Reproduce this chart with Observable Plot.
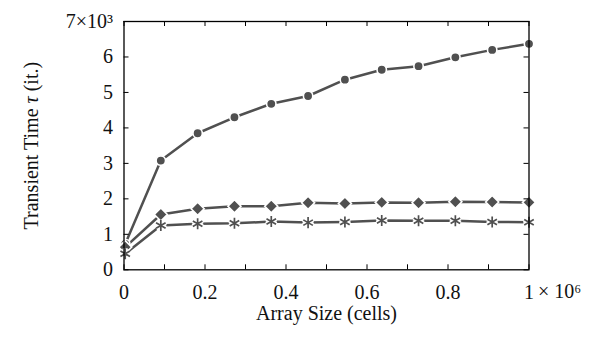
<!DOCTYPE html>
<html>
<head>
<meta charset="utf-8">
<script src="https://cdn.jsdelivr.net/npm/d3@7"></script>
<script src="https://cdn.jsdelivr.net/npm/@observablehq/plot@0.6"></script>
<style>
  html, body { margin: 0; padding: 0; background: #fff; }
  svg { display: block; }
</style>
</head>
<body>
<div id="chart"></div>
<script>
// ---- data ----
const sizes   = [3000, 90909, 181818, 272727, 363636, 454545, 545455, 636364, 727273, 818182, 909091, 1000000];
const circleT = [730, 3080, 3850, 4300, 4680, 4900, 5360, 5640, 5740, 5990, 6200, 6370];
const diamondT = [640, 1560, 1720, 1790, 1790, 1890, 1870, 1900, 1890, 1920, 1910, 1900];
const starT   = [450, 1250, 1300, 1310, 1360, 1330, 1350, 1390, 1380, 1380, 1350, 1340];
const xTicks = [0, 100000, 200000, 300000, 400000, 500000, 600000, 700000, 800000, 900000, 1000000];
const xTickLabels = [0, 200000, 400000, 600000, 800000, 1000000];
const yTicks = [0, 1000, 2000, 3000, 4000, 5000, 6000, 7000];
const xLabel = "Array Size (cells)";
const yLabel = "Transient Time τ (it.)";

const W = 597, H = 337;
const mL = 123.5, mR = 68.5, mT = 21, mB = 67.7;
const PW = W - mL - mR, PH = H - mT - mB;
const col = "#505050";
const ink = "#111";
const font = "'Liberation Serif', 'DejaVu Serif', serif";

const mk = arr => sizes.map((s, i) => ({x: s, y: arr[i]}));
const circ = mk(circleT), diam = mk(diamondT), star = mk(starT);

const diamondSym = {
  draw(ctx, size) {
    const r = Math.sqrt(size / 2);
    ctx.moveTo(0, -r); ctx.lineTo(r, 0); ctx.lineTo(0, r); ctx.lineTo(-r, 0); ctx.closePath();
  }
};

const chart = Plot.plot({
  width: W, height: H,
  marginLeft: mL, marginRight: mR, marginTop: mT, marginBottom: mB,
  style: {fontFamily: font, fontSize: "20px", color: ink, background: "#fff"},
  x: {domain: [0, 1000000]},
  y: {domain: [0, 7000]},
  marks: [
    // lines
    Plot.line(circ, {x: "x", y: "y", stroke: col, strokeWidth: 2.5}),
    Plot.line(diam, {x: "x", y: "y", stroke: col, strokeWidth: 2.5}),
    Plot.line(star, {x: "x", y: "y", stroke: col, strokeWidth: 2.5}),
    // markers
    Plot.dot(circ, {x: "x", y: "y", r: 4.7, fill: col, stroke: "#fff", strokeWidth: 1.6}),
    Plot.dot(diam, {x: "x", y: "y", r: 5.2, symbol: diamondSym, fill: col, stroke: "#fff", strokeWidth: 1.6}),
    Plot.dot(star, {x: "x", y: "y", r: 5.2, symbol: "asterisk", stroke: "#fff", strokeWidth: 5}),
    Plot.dot(star, {x: "x", y: "y", r: 5.2, symbol: "asterisk", stroke: col, strokeWidth: 1.7}),
    // inward ticks
    Plot.tickX(xTicks, {x: d => d, stroke: "#000", strokeWidth: 1, insetTop: PH - 5}),
    Plot.tickX(xTicks, {x: d => d, stroke: "#000", strokeWidth: 1, insetBottom: PH - 5}),
    Plot.tickY(yTicks, {y: d => d, stroke: "#000", strokeWidth: 1, insetRight: PW - 5}),
    Plot.tickY(yTicks, {y: d => d, stroke: "#000", strokeWidth: 1, insetLeft: PW - 5}),
    Plot.frame({stroke: "#000", strokeWidth: 1.3}),
    // tick labels
    Plot.axisX(xTickLabels, {anchor: "bottom", tickSize: 0, tickPadding: 15, fontSize: 20, letterSpacing: 1.2, fill: ink,
      tickFormat: d => d === 1000000 ? "1" : d3.format(".1f")(d / 1e6).replace(/^0\.0$/, "0"), label: null}),
    Plot.text([1000000], {x: d => d, frameAnchor: "bottom", dy: 14, dx: 9, text: () => "× 10⁶", fill: ink,
      textAnchor: "start", lineAnchor: "top", fontSize: 20, letterSpacing: 1.2}),
    Plot.axisY(yTicks, {anchor: "left", tickSize: 0, tickPadding: 11, fontSize: 20, letterSpacing: 1.2, fill: ink,
      tickFormat: d => d === 7000 ? "7×10³" : String(d / 1000), label: null}),
    // axis titles
    Plot.text([xLabel], {frameAnchor: "bottom", dy: 44, text: d => d, textAnchor: "middle", lineAnchor: "middle", fontSize: 20, letterSpacing: 1.8, fill: ink}),
    Plot.text([yLabel], {frameAnchor: "left", dx: -92, rotate: -90, text: d => d, textAnchor: "middle", lineAnchor: "middle", fontSize: 20, letterSpacing: 1.8, fill: ink})
  ]
});

// italicise τ in the y title
d3.select(chart).selectAll("text").each(function() {
  const t = d3.select(this);
  if (t.text() === yLabel) {
    t.text(null);
    t.append("tspan").text("Transient Time ");
    t.append("tspan").attr("font-style", "italic").text("τ");
    t.append("tspan").text(" (it.)");
  }
});

document.getElementById("chart").appendChild(chart);
</script>
</body>
</html>
